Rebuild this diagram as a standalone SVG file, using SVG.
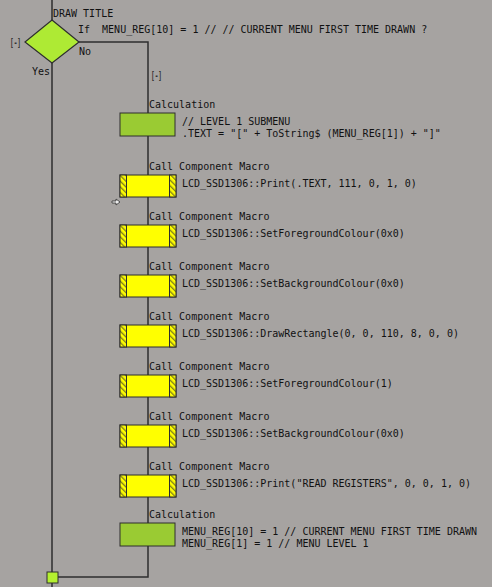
<svg xmlns="http://www.w3.org/2000/svg" width="492" height="587" viewBox="0 0 492 587">
<style>
text{font-family:"DejaVu Sans Mono","Liberation Mono",monospace;font-size:10px;fill:#111}
.ln{stroke:#2e2e2e;stroke-width:1.5;fill:none}
.calc{fill:#9acb33;stroke:#2e2e2e;stroke-width:1}
.mac{fill:#ffff00;stroke:#2e2e2e;stroke-width:1}
.hat{fill:url(#hatch);stroke:#2e2e2e;stroke-width:1}
.tog{font-size:11px;font-weight:bold;fill:#333}
</style>
<defs>
<pattern id="hatch" patternUnits="userSpaceOnUse" width="4" height="4" patternTransform="rotate(-45)">
<rect width="4" height="4" fill="#ffff00"/>
<rect width="1.3" height="4" fill="#7a7a20"/>
</pattern>
<g id="macro">
<rect class="mac" x="120" y="0" width="56" height="22"/>
<rect class="hat" x="120" y="0" width="6.5" height="22"/>
<rect class="hat" x="169.5" y="0" width="6.5" height="22"/>
</g>
</defs>
<rect width="492" height="587" fill="#a6a3a1"/>
<g id="connectors">
<path class="ln" d="M52,0 V20 M52,63 V587"/>
<path class="ln" d="M79,42 H148 V577 H57"/>
</g>
<g id="decision">
<polygon points="52,20 79,42 52,63 25,42" fill="#aeea34" stroke="#2e2e2e" stroke-width="1.2"/>
<text x="53" y="17">DRAW TITLE</text>
<text x="78" y="33" xml:space="preserve">If  MENU_REG[10] = 1 // // CURRENT MENU FIRST TIME DRAWN ?</text>
<text x="79" y="55">No</text>
<text x="32" y="75">Yes</text>
<text class="tog" x="10" y="46" textLength="11" lengthAdjust="spacingAndGlyphs">[-]</text>
<text class="tog" x="151" y="79" textLength="11" lengthAdjust="spacingAndGlyphs">[-]</text>
</g>
<g id="calc1">
<text x="149" y="108">Calculation</text>
<rect class="calc" x="120" y="113" width="55" height="23"/>
<text x="182" y="125">// LEVEL 1 SUBMENU</text>
<text x="182" y="137">.TEXT = "[" + ToString$ (MENU_REG[1]) + "]"</text>
</g>
<g id="macro1">
<text x="149" y="170">Call Component Macro</text>
<use href="#macro" y="175"/>
<text x="182" y="187">LCD_SSD1306::Print(.TEXT, 111, 0, 1, 0)</text>
<path d="M112,201 H116 V199 L120,202 L116,205 V203 H112 Z" fill="#eeeeee" stroke="#333" stroke-width="0.8"/>
</g>
<g id="macro2">
<text x="149" y="220">Call Component Macro</text>
<use href="#macro" y="225"/>
<text x="182" y="237">LCD_SSD1306::SetForegroundColour(0x0)</text>
</g>
<g id="macro3">
<text x="149" y="270">Call Component Macro</text>
<use href="#macro" y="275"/>
<text x="182" y="287">LCD_SSD1306::SetBackgroundColour(0x0)</text>
</g>
<g id="macro4">
<text x="149" y="320">Call Component Macro</text>
<use href="#macro" y="325"/>
<text x="182" y="337">LCD_SSD1306::DrawRectangle(0, 0, 110, 8, 0, 0)</text>
</g>
<g id="macro5">
<text x="149" y="370">Call Component Macro</text>
<use href="#macro" y="375"/>
<text x="182" y="387">LCD_SSD1306::SetForegroundColour(1)</text>
</g>
<g id="macro6">
<text x="149" y="420">Call Component Macro</text>
<use href="#macro" y="425"/>
<text x="182" y="437">LCD_SSD1306::SetBackgroundColour(0x0)</text>
</g>
<g id="macro7">
<text x="149" y="470">Call Component Macro</text>
<use href="#macro" y="475"/>
<text x="182" y="487">LCD_SSD1306::Print("READ REGISTERS", 0, 0, 1, 0)</text>
</g>
<g id="calc2">
<text x="149" y="518">Calculation</text>
<rect class="calc" x="120" y="523" width="55" height="23"/>
<text x="182" y="535">MENU_REG[10] = 1 // CURRENT MENU FIRST TIME DRAWN</text>
<text x="182" y="547">MENU_REG[1] = 1 // MENU LEVEL 1</text>
</g>
<g id="end">
<rect x="47" y="572" width="11" height="11" fill="#b4f030" stroke="#2e2e2e" stroke-width="1"/>
</g>
</svg>
